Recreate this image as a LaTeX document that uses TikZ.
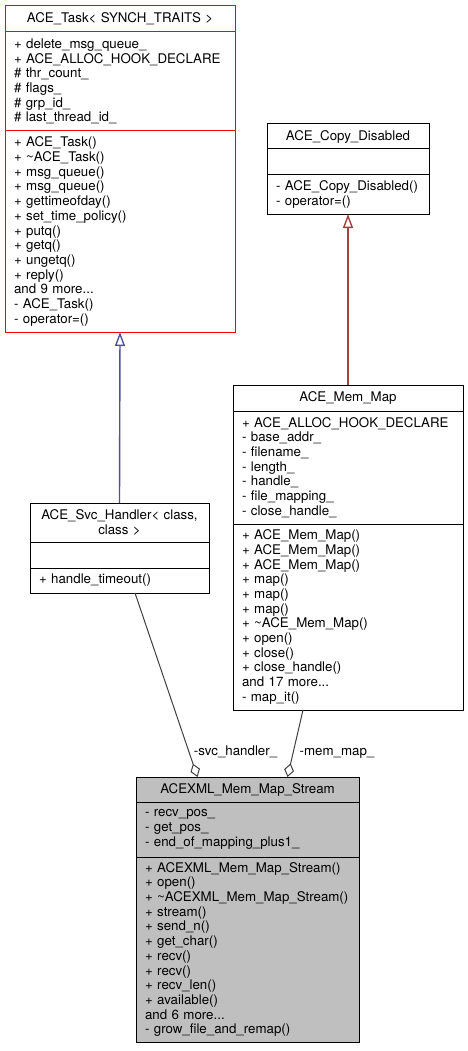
\documentclass[tikz,border=0pt]{standalone}
\usepackage{fontspec}
\setmainfont{TeX Gyre Heros}
\usetikzlibrary{arrows.meta}

\definecolor{edgeblue}{RGB}{80,80,160}
\definecolor{edgered}{RGB}{165,65,65}
\definecolor{edgegray}{RGB}{64,64,64}
\definecolor{boxgray}{RGB}{191,191,191}

\begin{document}
\begin{tikzpicture}[x=1pt,y=-1pt,
  classpart/.style={draw, line width=1pt, anchor=north west, outer sep=0pt,
    inner xsep=9pt, inner ysep=0pt, align=left,
    font=\fontsize{13.3}{14.7}\selectfont},
  classhead/.style={classpart, align=center},
  redpart/.style={draw=red, text=black},
  inherit/.style={line width=1.4pt, -{Triangle[open, length=14pt, width=10pt]}},
  aggr/.style={line width=1pt, edgegray, -{Diamond[open, length=14pt, width=10pt]}},
  rolelabel/.style={anchor=base, inner sep=0pt, font=\fontsize{13.3}{14.7}\selectfont}]

  \useasboundingbox (0,0) rectangle (468,1051);

  % Draw the class ACE_Task
  \node[classhead, redpart, text width=212pt, minimum height=26pt] (task head) at (5,6)
    {ACE\_Task< SYNCH\_TRAITS >};
  \node[classpart, redpart, text width=212pt, minimum height=99pt] (task attr) at (task head.south west)
    {+ delete\_msg\_queue\_\\
     + ACE\_ALLOC\_HOOK\_DECLARE\\
     \# thr\_count\_\\
     \# flags\_\\
     \# grp\_id\_\\
     \# last\_thread\_id\_};
  \node[classpart, redpart, text width=212pt, minimum height=201pt] (task ops) at (task attr.south west)
    {+ ACE\_Task()\\
     + \textasciitilde ACE\_Task()\\
     + msg\_queue()\\
     + msg\_queue()\\
     + gettimeofday()\\
     + set\_time\_policy()\\
     + putq()\\
     + getq()\\
     + ungetq()\\
     + reply()\\
     and 9 more...\\
     - ACE\_Task()\\
     - operator=()};

  % Draw the class ACE_Copy_Disabled
  \node[classhead, text width=144pt, minimum height=25pt] (copy head) at (267,124)
    {ACE\_Copy\_Disabled};
  \node[classpart, text width=144pt, minimum height=26pt] (copy attr) at (copy head.south west) {};
  \node[classpart, text width=144pt, minimum height=39pt] (copy ops) at (copy attr.south west)
    {- ACE\_Copy\_Disabled()\\
     - operator=()};

  % Draw the class ACE_Mem_Map
  \node[classhead, text width=212pt, minimum height=26pt] (mem head) at (233,385)
    {ACE\_Mem\_Map};
  \node[classpart, text width=212pt, minimum height=113pt] (mem attr) at (mem head.south west)
    {+ ACE\_ALLOC\_HOOK\_DECLARE\\
     - base\_addr\_\\
     - filename\_\\
     - length\_\\
     - handle\_\\
     - file\_mapping\_\\
     - close\_handle\_};
  \node[classpart, text width=212pt, minimum height=186pt] (mem ops) at (mem attr.south west)
    {+ ACE\_Mem\_Map()\\
     + ACE\_Mem\_Map()\\
     + ACE\_Mem\_Map()\\
     + map()\\
     + map()\\
     + map()\\
     + \textasciitilde ACE\_Mem\_Map()\\
     + open()\\
     + close()\\
     + close\_handle()\\
     and 17 more...\\
     - map\_it()};

  % Draw the class ACE_Svc_Handler
  \node[classhead, text width=161pt, minimum height=39pt] (svc head) at (30,503)
    {ACE\_Svc\_Handler< class,\\ class >};
  \node[classpart, text width=161pt, minimum height=26pt] (svc attr) at (svc head.south west) {};
  \node[classpart, text width=161pt, minimum height=25pt] (svc ops) at (svc attr.south west)
    {+ handle\_timeout()};

  % Draw the class ACEXML_Mem_Map_Stream
  \node[classhead, fill=boxgray, text width=205pt, minimum height=25pt] (stream head) at (136,777)
    {ACEXML\_Mem\_Map\_Stream};
  \node[classpart, fill=boxgray, text width=205pt, minimum height=55pt] (stream attr) at (stream head.south west)
    {- recv\_pos\_\\
     - get\_pos\_\\
     - end\_of\_mapping\_plus1\_};
  \node[classpart, fill=boxgray, text width=205pt, minimum height=185pt] (stream ops) at (stream attr.south west)
    {+ ACEXML\_Mem\_Map\_Stream()\\
     + open()\\
     +~\textasciitilde ACEXML\_Mem\_Map\_Stream()\\
     + stream()\\
     + send\_n()\\
     + get\_char()\\
     + recv()\\
     + recv()\\
     + recv\_len()\\
     + available()\\
     and 6 more...\\
     - grow\_file\_and\_remap()};

  % Draw the inheritance arrows
  \draw[inherit, edgeblue] (svc head.north) -- (task ops.south);
  \draw[inherit, edgered] (mem head.north) -- (copy ops.south);

  % Draw the aggregation lines and their roles
  \draw[aggr] ([xshift=15.5pt]svc ops.south) -- ([xshift=-50pt]stream head.north);
  \draw[aggr] ([xshift=-45pt]mem ops.south) -- ([xshift=40pt]stream head.north);
  \node[rolelabel] (svc role) at (235.5,755) {-svc\_handler\_};
  \node[rolelabel] (mem role) at (337,755) {-mem\_map\_};

\end{tikzpicture}
\end{document}
